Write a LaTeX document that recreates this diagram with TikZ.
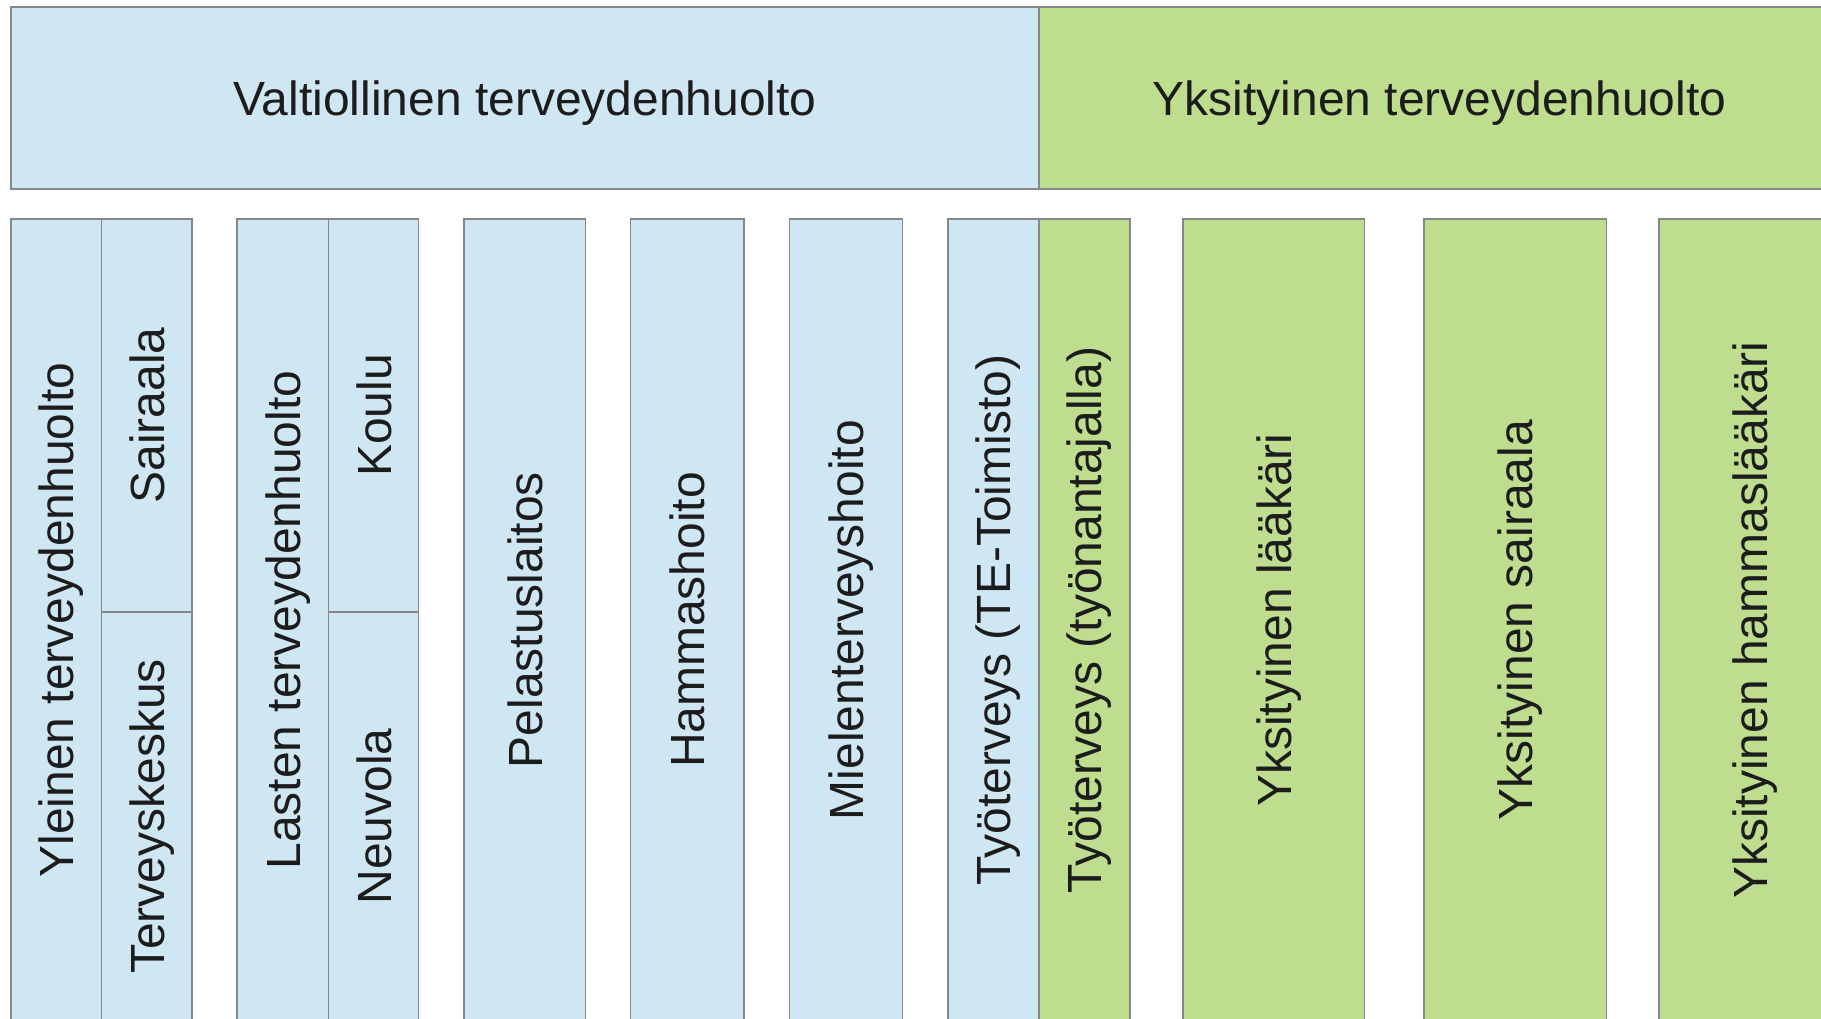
\documentclass[tikz,border=0pt]{standalone}
\usepackage{fontspec}
\setmainfont{Liberation Sans}
\usepackage{tikz}
\definecolor{valtioblue}{RGB}{207,230,243}
\definecolor{yksitgreen}{RGB}{191,221,142}
\definecolor{reuna}{RGB}{135,135,135}
\definecolor{teksti}{RGB}{28,28,28}

\begin{document}
\begin{tikzpicture}[x=0.1mm,y=-0.1mm,
  laatikko/.style={draw=reuna,line width=0.45pt,inner sep=0pt,text=teksti,
    text depth=0pt,font=\fontsize{13.65}{16}\selectfont},
  valtio/.style={laatikko,fill=valtioblue},
  yksit/.style={laatikko,fill=yksitgreen},
  pitka/.style={rotate=90,minimum width=80.2mm},
  ylaosa/.style={rotate=90,minimum width=39.3mm},
  alaosa/.style={rotate=90,minimum width=40.9mm}]
\useasboundingbox (0,0) rectangle (1821,1018);
\clip (0,0) rectangle (1821,1018);
% otsikot
\node[valtio,minimum width=102.8mm,minimum height=18.17mm] (valtiollinen) at (525,98) {Valtiollinen terveydenhuolto};
\node[yksit,minimum width=80.1mm,minimum height=18.17mm] (yksityinen) at (1439.5,98) {Yksityinen terveydenhuolto};
% valtiollinen puoli
\node[valtio,pitka,minimum height=9.07mm] (yleinen) at (56.35,620) {Yleinen terveydenhuolto};
\node[valtio,ylaosa,minimum height=9.03mm] (sairaala) at (146.85,415.5) {Sairaala};
\node[valtio,alaosa,minimum height=9.03mm] (terveyskeskus) at (146.85,816.5) {Terveyskeskus};
\node[valtio,pitka,minimum height=9.17mm] (lasten) at (282.85,620) {Lasten terveydenhuolto};
\node[valtio,ylaosa,minimum height=9.0mm] (koulu) at (373.7,415.5) {Koulu};
\node[valtio,alaosa,minimum height=9.0mm] (neuvola) at (373.7,816.5) {Neuvola};
\node[valtio,pitka,minimum height=12.15mm] (pelastus) at (524.75,620) {Pelastuslaitos};
\node[valtio,pitka,minimum height=11.35mm] (hammashoito) at (687.25,620) {Hammashoito};
\node[valtio,pitka,minimum height=11.31mm] (mielen) at (846,620) {Mielenterveyshoito};
\node[valtio,pitka,minimum height=9.1mm] (tetoimisto) at (993.5,620) {Työterveys (TE-Toimisto)};
% yksityinen puoli
\node[yksit,pitka,minimum height=9.1mm] (tyonantaja) at (1084.5,620) {Työterveys (työnantajalla)};
\node[yksit,pitka,minimum height=18.19mm] (laakari) at (1273.65,620) {Yksityinen lääkäri};
\node[yksit,pitka,minimum height=18.23mm] (ysairaala) at (1515.15,620) {Yksityinen sairaala};
\node[yksit,pitka,minimum height=18.2mm] (hammaslaakari) at (1750,620) {Yksityinen hammaslääkäri};
\end{tikzpicture}
\end{document}
